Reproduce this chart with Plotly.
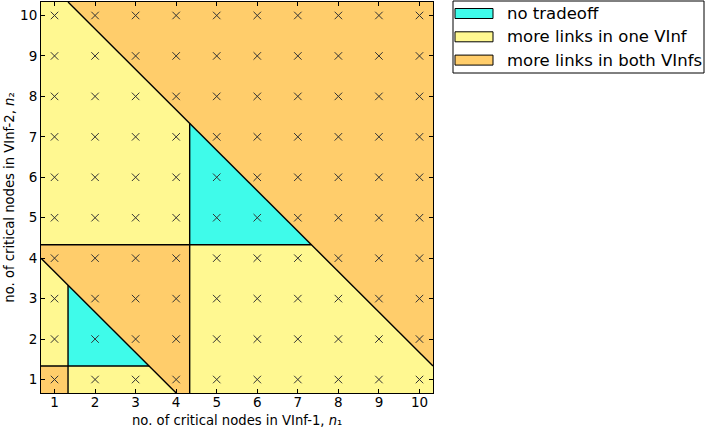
import plotly.graph_objects as go

T = 1.0 / 3.0
LO, HI = 1 - T, 10 + T

# grid of evaluated (n1, n2) points
n1_values = list(range(1, 11))
n2_values = list(range(1, 11))

# region polygons (x list, y list, category)
regions = [
    ([LO, LO, 1 + T, HI, HI], [LO, HI, HI, 1 + T, LO], "one"),
    ([1 + T, HI, HI], [HI, HI, 1 + T], "both"),
    ([4 + T, 4 + T, 7 + T], [4 + T, 7 + T, 4 + T], "none"),
    ([LO, LO, 4 + T, 4 + T], [LO, 4 + T, 4 + T, LO], "both"),
    ([LO, LO, 4.0], [LO, 4.0, LO], "one"),
    ([1 + T, 1 + T, 3 + T], [1 + T, 3 + T, 1 + T], "none"),
    ([LO, LO, 1 + T, 1 + T], [LO, 1 + T, 1 + T, LO], "both"),
]

# boundary segments
boundaries = [
    ([1 + T, HI], [HI, 1 + T]),
    ([4 + T, 4 + T], [LO, 7 + T]),
    ([LO, 7 + T], [4 + T, 4 + T]),
    ([LO, 4.0], [4.0, LO]),
    ([1 + T, 1 + T], [LO, 3 + T]),
    ([LO, 3 + T], [1 + T, 1 + T]),
]

labels = {
    "none": "no tradeoff",
    "one": "more links in one VInf",
    "both": "more links in both VInfs",
}
colors = {"none": "#3ffbea", "one": "#fff891", "both": "#ffcd6b"}

FONT = "DejaVu Sans"

fig = go.Figure()
for xs, ys, cat in regions:
    fig.add_trace(
        go.Scatter(
            x=xs, y=ys, fill="toself", fillcolor=colors[cat], mode="none",
            showlegend=False, hoverinfo="skip",
        )
    )
for xs, ys in boundaries:
    fig.add_trace(
        go.Scatter(
            x=xs, y=ys, mode="lines", line=dict(color="black", width=1.4),
            showlegend=False, hoverinfo="skip",
        )
    )

gx = [a for a in n1_values for b in n2_values]
gy = [b for a in n1_values for b in n2_values]
fig.add_trace(
    go.Scatter(
        x=gx, y=gy, mode="markers",
        marker=dict(symbol="x-thin", size=7.5, line=dict(color="#333333", width=1)),
        showlegend=False,
    )
)

# legend drawn in pixel-like paper coords
W, L, R, TOP, BOT = 705, 41, 433, 2, 393
pw, ph = R - L, BOT - TOP


def px(x):
    return (x - L) / pw


def py(y):
    return (BOT - y) / ph


shapes = [
    dict(type="rect", xref="paper", yref="paper", x0=px(453), x1=px(704),
         y0=py(73), y1=py(1), line=dict(color="black", width=1), fillcolor="white"),
]
annotations = []
for i, cat in enumerate(["none", "one", "both"]):
    cy = 13.5 + i * 23.3
    shapes.append(
        dict(type="rect", xref="paper", yref="paper", x0=px(455), x1=px(493),
             y0=py(cy + 5), y1=py(cy - 5), line=dict(color="black", width=1),
             fillcolor=colors[cat])
    )
    annotations.append(
        dict(xref="paper", yref="paper", x=px(505), y=py(cy), text=labels[cat],
             showarrow=False, xanchor="left", yanchor="middle",
             font=dict(family=FONT, size=16.5, color="black"))
    )

# x axis title placed just below the tick labels
annotations.append(
    dict(xref="paper", yref="paper", x=0.5, y=py(420), yanchor="middle",
         xanchor="center", showarrow=False,
         text="no. of critical nodes in VInf-1, <i>n</i>\u2081",
         font=dict(family=FONT, size=13.2, color="black"))
)

fig.update_layout(
    width=W, height=428,
    margin=dict(l=L, r=W - R, t=TOP, b=428 - BOT),
    plot_bgcolor="white", paper_bgcolor="white",
    font=dict(family=FONT, size=13, color="black"),
    shapes=shapes, annotations=annotations,
    showlegend=False,
)
axis_common = dict(
    range=[LO, HI], tickvals=list(range(1, 11)), ticks="inside", ticklen=4,
    tickcolor="black", showgrid=False, zeroline=False, showline=True,
    linecolor="black", linewidth=1, mirror="ticks", tickfont=dict(size=13.5),
)
fig.update_xaxes(ticklabelstandoff=-3, **axis_common)
fig.update_yaxes(
    title=dict(text="no. of critical nodes in VInf-2, <i>n</i>\u2082",
               font=dict(size=13.2), standoff=2),
    **axis_common,
)
fig.write_html(
    "out.html",
    config={"displayModeBar": False},
    post_script="document.body.style.margin='0px';",
)
